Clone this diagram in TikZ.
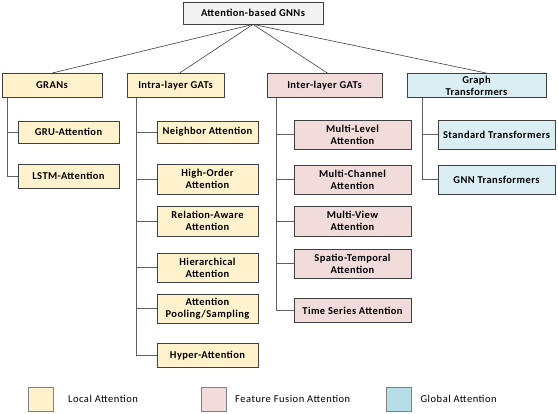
\documentclass[tikz,border=0pt]{standalone}
\usepackage{fontspec}
\setmainfont{Carlito}
\usepackage{tikz}
\usetikzlibrary{positioning, calc}

\definecolor{rootfill}{HTML}{F2F2F2}
\definecolor{localfill}{HTML}{FFF2CC}
\definecolor{fusionfill}{HTML}{F2DCDB}
\definecolor{globalfill}{HTML}{DAEEF3}
\definecolor{globalkey}{HTML}{B7DDE8}
\definecolor{boxline}{HTML}{3F3F3F}
\definecolor{treeline}{HTML}{5F5F5F}

\newcommand{\tboxfont}{\fontsize{10.5}{12}\selectfont\bfseries\addfontfeatures{LetterSpace=4}}
\newcommand{\tkeyfont}{\fontsize{10.5}{12}\selectfont\addfontfeatures{LetterSpace=5}}

\begin{document}
\begin{tikzpicture}[
  x=1pt, y=-1pt,
  catbox/.style={draw=boxline, line width=0.8pt, minimum height=24pt, inner sep=1pt, font=\tboxfont, align=center},
  rootnode/.style={catbox, fill=rootfill, minimum width=140pt, minimum height=22pt},
  localcat/.style={catbox, fill=localfill},
  fusioncat/.style={catbox, fill=fusionfill},
  globalcat/.style={catbox, fill=globalfill},
  leafloc/.style={localcat, minimum width=101pt},
  leaffus/.style={fusioncat, minimum width=117pt},
  leafglob/.style={globalcat, minimum width=117pt},
  rootline/.style={draw=boxline, line width=0.6pt},
  trunk/.style={draw=treeline, line width=0.9pt},
  keybox/.style={draw=gray, line width=0.8pt, minimum width=25pt, minimum height=24pt, inner sep=0pt},
  keytext/.style={font=\tkeyfont, inner sep=0pt, anchor=west}
]
\useasboundingbox (0,0) rectangle (558,414);

% Root
\node[rootnode]  (root)  at (253,13) {Attention-based GNNs};

% Categories
\node[localcat, minimum width=100pt]  (grans) at (52,85.5)    {GRANs};
\node[localcat, minimum width=97pt]   (intra) at (175.5,85.5) {Intra-layer GATs};
\node[fusioncat, minimum width=115pt] (inter) at (324.5,85.5) {Inter-layer GATs};
\node[globalcat, minimum width=139pt] (gt)    at (476.5,85.5) {Graph\\Transformers};

% GRANs
\node[leafloc, minimum height=22pt] (gru)  at (68.5,132) {GRU-Attention};
\node[leafloc]                      (lstm) at (68.5,176) {LSTM-Attention};

% Intra-layer GATs
\node[leafloc, minimum height=22pt] (neigh) at (207.5,132)   {Neighbor Attention};
\node[leafloc, minimum height=30pt] (high)  at (207.5,179)   {High-Order\\Attention};
\node[leafloc, minimum height=30pt] (rel)   at (207.5,221)   {Relation-Aware\\Attention};
\node[leafloc, minimum height=29pt] (hier)  at (207.5,267.5) {Hierarchical\\Attention};
\node[leafloc, minimum height=29pt] (pool)  at (207.5,308.5) {Attention\\Pooling/Sampling};
\node[leafloc]                      (hyper) at (207.5,355.5) {Hyper-Attention};

% Inter-layer GATs
\node[leaffus, minimum height=29pt] (mlevel) at (352.5,134.5) {Multi-Level\\Attention};
\node[leaffus, minimum height=29pt] (mchan)  at (352.5,179.5) {Multi-Channel\\Attention};
\node[leaffus, minimum height=30pt] (mview)  at (352.5,221)   {Multi-View\\Attention};
\node[leaffus, minimum height=29pt] (spatio) at (352.5,263.5) {Spatio-Temporal\\Attention};
\node[leaffus]                      (tseries) at (352.5,310.5) {Time Series Attention};

% Graph Transformers
\node[leafglob, minimum height=29pt] (std)    at (496.5,134.5) {Standard Transformers};
\node[leafglob, minimum height=29pt] (gnntr)  at (496.5,179.5) {GNN Transformers};

% Root links
\draw[rootline] (root.south) -- (grans.north);
\draw[rootline] (root.south) -- ([xshift=4pt]intra.north);
\draw[rootline] (root.south) -- ([xshift=3pt]inter.north);
\draw[rootline] (root.south) -- ([xshift=10pt]gt.north);

% Trunks
\coordinate (grans-t) at ([xshift=6pt]grans.south west);
\coordinate (intra-t) at ([xshift=10pt]intra.south west);
\coordinate (inter-t) at ([xshift=10pt]inter.south west);
\coordinate (gt-t)    at ([xshift=16pt]gt.south west);

\draw[trunk] (grans-t) |- (lstm.west);
\draw[trunk] (intra-t) |- (hyper.west);
\draw[trunk] (inter-t) |- (tseries.west);
\draw[trunk] (gt-t) |- (gnntr.west);

\draw[trunk] (gru.west) -- (gru.west -| grans-t);
\foreach \n in {neigh, high, rel, hier, pool}
  \draw[trunk] (\n.west) -- (\n.west -| intra-t);
\foreach \n in {mlevel, mchan, mview, spatio}
  \draw[trunk] (\n.west) -- (\n.west -| inter-t);
\draw[trunk] (std.west) -- (std.west -| gt-t);

% Legend
\node[keybox, fill=localfill]  (keyloc)  at (41,399)    {};
\node[keybox, fill=fusionfill] (keyfus)  at (214,399)   {};
\node[keybox, fill=globalkey]  (keyglob) at (398.5,399) {};
\node[keytext, right=14pt of keyloc.east,  anchor=west] (txtloc)  {Local Attention};
\node[keytext, right=8pt of keyfus.east,   anchor=west] (txtfus)  {Feature Fusion Attention};
\node[keytext, right=9pt of keyglob.east,  anchor=west] (txtglob) {Global Attention};
\end{tikzpicture}
\end{document}
